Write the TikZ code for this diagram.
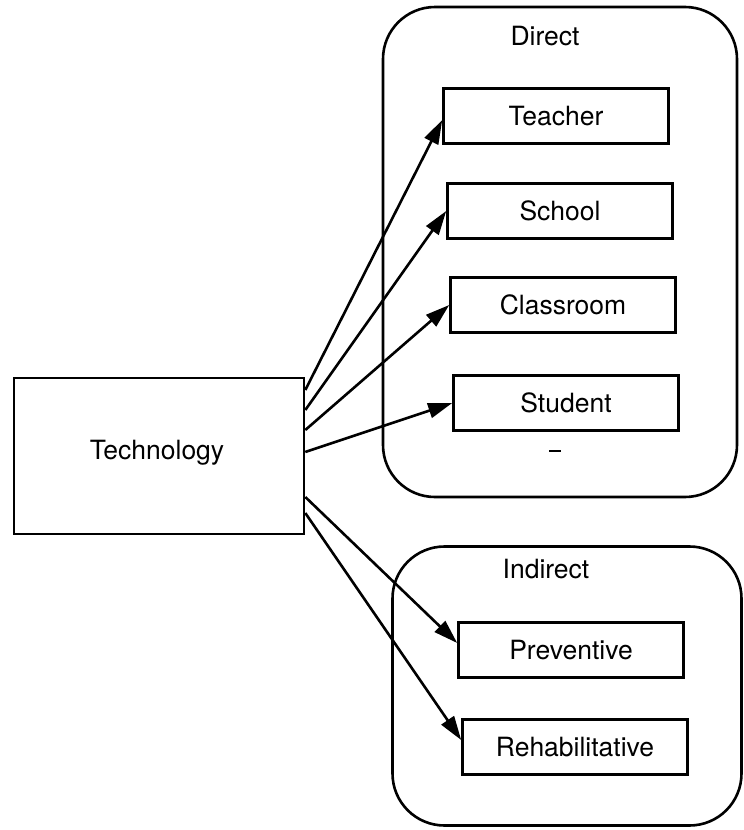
\documentclass[tikz,border=0pt]{standalone}
\usepackage{fontspec}
\setmainfont{TeX Gyre Heros}
\usetikzlibrary{arrows.meta, positioning}

\begin{document}
\begin{tikzpicture}[
    x=1pt, y=-1pt,
    box/.style={rectangle, draw, line width=2.6pt, minimum width=225pt, minimum height=55pt, font=\fontsize{26.5}{30}\selectfont},
    group/.style={rectangle, draw, line width=2.6pt, rounded corners=52pt},
    title/.style={font=\fontsize{26.5}{30}\selectfont},
    arrow/.style={-{Triangle[length=24pt, width=15pt]}, line width=2.6pt}
]
\useasboundingbox (0,0) rectangle (744,830);

% Groups
\node[group, minimum width=354pt, minimum height=490pt] (direct) at (560,252) {};
\node[title] (directlbl) at (545,36) {Direct};

\node[group, minimum width=349pt, minimum height=279pt] (indirect) at (567,686) {};
\node[title] (indirectlbl) at (546,569) {Indirect};

% Technology
\node[box, minimum width=290pt, minimum height=156pt] (tech) at (159,456) {};
\node[title] (techlbl) at (157,453) {Technology};

% Direct effects
\node[box] (teacher) at (556,116) {Teacher};
\node[box] (school) at (560,211) {School};
\node[box] (classroom) at (563,305) {Classroom};
\node[box] (student) at (566,403) {Student};
\coordinate (tick) at (555,451);
\draw[line width=2pt] ([xshift=-6pt]tick) -- ([xshift=6pt]tick);

% Indirect effects
\node[box] (preventive) at (571,650) {Preventive};
\node[box] (rehab) at (575,747) {Rehabilitative};

% Arrows
\draw[arrow] ([yshift=66pt]tech.east) -- ([yshift=-4pt]teacher.west);
\draw[arrow] ([yshift=46pt]tech.east) -- (school.west);
\draw[arrow] ([yshift=26pt]tech.east) -- (classroom.west);
\draw[arrow] ([yshift=4pt]tech.east) -- (student.west);
\draw[arrow] ([yshift=-41pt]tech.east) -- ([yshift=7pt]preventive.west);
\draw[arrow] ([yshift=-57pt]tech.east) -- ([yshift=7pt]rehab.west);

\end{tikzpicture}
\end{document}
